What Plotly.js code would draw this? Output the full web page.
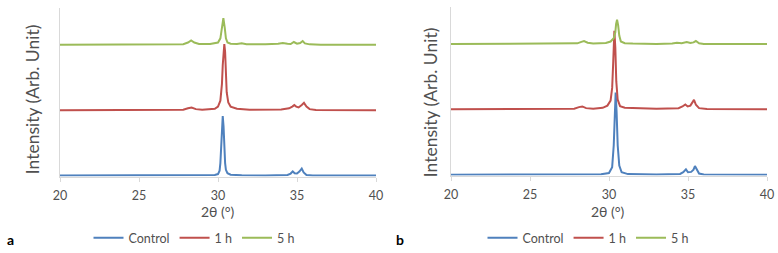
<!DOCTYPE html>
<html>
<head>
<meta charset="utf-8">
<script src="https://cdn.plot.ly/plotly-3.0.1.min.js"></script>
<style>html,body{margin:0;padding:0;background:#fff}#chart{width:778px;height:253px}</style>
</head>
<body>
<div id="chart"></div>
<script>
// Series names
const seriesNames = ["Control", "1 h", "5 h"];
const xTicks = [20, 25, 30, 35, 40];

// Panel a
const aCtrlX = [20,22,24,26,28,29,29.8,30.0,30.1,30.15,30.2,30.25,30.3,30.35,30.4,30.45,30.5,30.6,30.8,31.5,33,34.4,34.6,34.73,34.85,35.0,35.15,35.3,35.42,35.6,36,38,40];
const aCtrlY = [0.06,0.06,0.06,0.06,0.07,0.07,0.09,0.15,0.35,0.8,1.8,3.0,3.59,3.0,1.7,0.8,0.4,0.2,0.11,0.08,0.07,0.1,0.18,0.31,0.2,0.18,0.3,0.47,0.25,0.1,0.07,0.06,0.06];
const a1hX = [20,22,24,26,27.8,28.1,28.33,28.6,29,29.8,30.0,30.15,30.25,30.3,30.35,30.4,30.45,30.5,30.55,30.65,30.8,31.2,32,34,34.5,34.7,34.83,34.95,35.1,35.3,35.44,35.6,35.8,36.2,38,40];
const a1hY = [3.94,3.94,3.95,3.94,3.96,4.05,4.1,4.0,3.96,4.02,4.15,4.5,5.5,6.6,7.5,7.86,7.4,6.2,5.0,4.4,4.15,4.02,3.97,3.98,4.05,4.15,4.24,4.15,4.1,4.25,4.37,4.15,4.0,3.95,3.94,3.94];
const a5hX = [20,22,24,24.2,24.4,26,27.8,28.1,28.3,28.5,28.8,29.5,30.0,30.15,30.25,30.34,30.43,30.5,30.6,30.8,31.2,31.5,31.8,33,33.8,34.1,34.4,34.6,34.8,35.0,35.2,35.36,35.5,35.8,36.5,38,40];
const a5hY = [7.82,7.82,7.83,7.86,7.83,7.82,7.85,7.95,8.07,7.95,7.86,7.86,7.95,8.2,8.9,9.39,8.8,8.2,7.95,7.88,7.86,7.9,7.85,7.84,7.88,7.92,7.88,7.86,7.98,7.88,7.92,8.04,7.9,7.84,7.82,7.82,7.82];

// Panel b
const bCtrlX = [20,22,24,26,28,29.5,30.0,30.2,30.3,30.36,30.42,30.48,30.55,30.65,30.8,31.2,33,34.5,34.7,34.87,35.0,35.2,35.35,35.44,35.55,35.7,36,38,40];
const bCtrlY = [0.05,0.05,0.06,0.06,0.07,0.08,0.15,0.5,1.8,3.6,4.92,3.8,1.8,0.6,0.2,0.09,0.07,0.1,0.2,0.37,0.2,0.22,0.35,0.57,0.35,0.12,0.07,0.05,0.05];
const b1hX = [20,22,24,26,27.8,28.1,28.31,28.55,29,29.6,29.9,30.1,30.2,30.27,30.34,30.4,30.46,30.55,30.7,31,31.5,33,34.4,34.65,34.83,34.98,35.15,35.3,35.38,35.5,35.7,36.2,38,40];
const b1hY = [3.94,3.94,3.95,3.95,3.97,4.06,4.1,4.0,3.97,4.02,4.15,4.45,5.2,6.8,8.59,7.6,5.6,4.5,4.12,4.02,4.0,3.97,4.0,4.1,4.22,4.1,4.15,4.35,4.49,4.2,4.0,3.95,3.94,3.94];
const b5hX = [20,22,24,26,28,28.25,28.42,28.65,29,29.8,30.1,30.3,30.4,30.45,30.51,30.58,30.65,30.75,31,31.5,32,33,34,34.3,34.6,34.92,35.15,35.35,35.5,35.7,36,38,40];
const b5hY = [7.8,7.8,7.81,7.81,7.84,7.93,7.98,7.88,7.83,7.86,7.95,8.15,8.5,9.0,9.24,8.9,8.3,7.95,7.85,7.83,7.82,7.81,7.83,7.88,7.85,7.92,7.86,7.9,7.98,7.85,7.81,7.8,7.8];

const colors = ["#4F81BD", "#C0504D", "#9BBB59"];
const FONT = "Lato, 'Open Sans', sans-serif";
const TXT = "#505050";

function tr(x, y, i, xa, ya, leg) {
  return {x: x, y: y, name: seriesNames[i], type: "scatter", mode: "lines",
    line: {color: colors[i], width: 2}, xaxis: xa, yaxis: ya, legend: leg,
    hoverinfo: "skip"};
}

const data = [
  tr(aCtrlX, aCtrlY, 0, "x", "y", "legend"),
  tr(a1hX, a1hY, 1, "x", "y", "legend"),
  tr(a5hX, a5hY, 2, "x", "y", "legend"),
  tr(bCtrlX, bCtrlY, 0, "x2", "y2", "legend2"),
  tr(b1hX, b1hY, 1, "x2", "y2", "legend2"),
  tr(b5hX, b5hY, 2, "x2", "y2", "legend2")
];

function xax(dom, anchor) {
  return {domain: dom, anchor: anchor, range: [20, 40], tickvals: xTicks,
    ticks: "outside", ticklen: 4, tickcolor: "#d9d9d9", tickwidth: 1,
    showline: true, linecolor: "#d9d9d9", linewidth: 1, showgrid: false, zeroline: false,
    tickfont: {family: FONT, size: 12.5, color: TXT}, ticklabelstandoff: 3, fixedrange: true};
}
function yax(dom, anchor) {
  return {domain: dom, anchor: anchor, range: [0, 10], showticklabels: false,
    ticks: "", showline: true, linecolor: "#d9d9d9", linewidth: 1,
    showgrid: false, zeroline: false, fixedrange: true};
}

const W = 778, H = 253;
const layout = {
  width: W, height: H,
  margin: {l: 0, r: 0, t: 0, b: 0},
  paper_bgcolor: "#fff", plot_bgcolor: "#fff",
  font: {family: FONT, color: TXT, size: 12},
  xaxis: xax([60 / W, 376 / W], "y"),
  yaxis: yax([1 - 178 / H, 1 - 8 / H], "x"),
  xaxis2: xax([451 / W, 767 / W], "y2"),
  yaxis2: yax([1 - 177 / H, 1 - 7 / H], "x2"),
  showlegend: true,
  legend: {orientation: "h", x: 194 / W, xanchor: "center", y: 1 - 240 / H, yanchor: "middle",
    font: {family: FONT, size: 12.5, color: TXT}, itemwidth: 30, bgcolor: "rgba(0,0,0,0)"},
  legend2: {orientation: "h", x: 588 / W, xanchor: "center", y: 1 - 240 / H, yanchor: "middle",
    font: {family: FONT, size: 12.5, color: TXT}, itemwidth: 30, bgcolor: "rgba(0,0,0,0)"},
  annotations: [
    {text: "Intensity (Arb. Unit)", xref: "paper", yref: "paper", x: 32 / W, y: 1 - 100 / H,
     textangle: -90, showarrow: false, font: {family: FONT, size: 17.5, color: TXT}, xanchor: "center", yanchor: "middle"},
    {text: "Intensity (Arb. Unit)", xref: "paper", yref: "paper", x: 430 / W, y: 1 - 103 / H,
     textangle: -90, showarrow: false, font: {family: FONT, size: 17.5, color: TXT}, xanchor: "center", yanchor: "middle"},
    {text: "2θ (°)", xref: "paper", yref: "paper", x: 218 / W, y: 1 - 213 / H,
     showarrow: false, font: {family: FONT, size: 14, color: TXT}, xanchor: "center", yanchor: "middle"},
    {text: "2θ (°)", xref: "paper", yref: "paper", x: 608 / W, y: 1 - 213 / H,
     showarrow: false, font: {family: FONT, size: 14, color: TXT}, xanchor: "center", yanchor: "middle"},
    {text: "<b>a</b>", xref: "paper", yref: "paper", x: 10 / W, y: 1 - 241 / H,
     showarrow: false, font: {family: FONT, size: 14, color: "#000"}, xanchor: "center", yanchor: "middle"},
    {text: "<b>b</b>", xref: "paper", yref: "paper", x: 400 / W, y: 1 - 241 / H,
     showarrow: false, font: {family: FONT, size: 14, color: "#000"}, xanchor: "center", yanchor: "middle"}
  ]
};

Plotly.newPlot("chart", data, layout, {staticPlot: true, displayModeBar: false});
</script>
</body>
</html>
